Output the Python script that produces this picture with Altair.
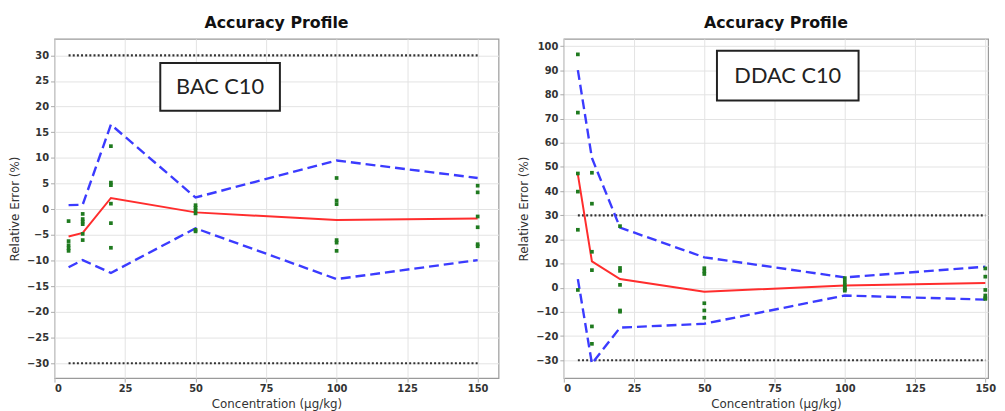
import altair as alt
import pandas as pd

# ---------------- data ----------------
conc = [5, 10, 20, 50, 100, 150]

# BAC C10
bac_mean = [-5.3, -4.6, 2.2, -0.6, -2.1, -1.8]
bac_upper = [0.8, 0.9, 16.5, 2.3, 9.5, 6.1]
bac_lower = [-11.3, -9.9, -12.4, -3.7, -13.6, -9.9]
bac_pts_5 = [-2.3, -6.2, -7.0, -7.6, -8.1]
bac_pts_10 = [-0.9, -1.9, -2.4, -2.9, -4.8, -6.0]
bac_pts_20 = [12.3, 5.2, 4.7, 1.1, -2.7, -7.5]
bac_pts_50 = [0.8, 0.3, -0.2, -0.8, -4.0, -4.3]
bac_pts_100 = [6.1, 1.7, 1.0, -6.0, -6.5, -8.1]
bac_pts_150 = [4.6, 3.3, -1.4, -3.5, -6.8, -7.2]

# DDAC C10
ddac_mean = [46.9, 10.9, 3.6, -1.6, 0.9, 2.0]
ddac_upper = [90.1, 53.7, 24.9, 12.6, 4.3, 8.7]
ddac_lower = [3.6, -31.4, -16.5, -14.9, -3.2, -4.9]
ddac_pts_5 = [96.6, 72.5, 47.3, 39.8, 24.0, -0.9]
ddac_pts_10 = [47.6, 34.8, 14.9, 7.3, -16.0, -23.2]
ddac_pts_20 = [25.5, 8.2, 7.0, 1.2, -9.4, -9.9]
ddac_pts_50 = [8.1, 6.8, 5.7, -6.4, -9.4, -12.4]
ddac_pts_100 = [4.0, 2.5, 1.2, 0.0, -0.6, -1.2]
ddac_pts_150 = [8.0, 4.6, -0.9, -3.2, -4.3, -4.6]

acceptance = [30, -30]
limit_x = [5, 150]

x_ticks = [0, 25, 50, 75, 100, 125, 150]
bac_y_ticks = list(range(-30, 31, 5))
ddac_y_ticks = list(range(-30, 101, 10))

title_text = "Accuracy Profile"
x_title = "Concentration (µg/kg)"
y_title = "Relative Error (%)"
bac_label = "BAC C10"
ddac_label = "DDAC C10"

# annotation boxes in data units: x from, x to, y from, y to
bac_box = [37.5, 79.9, 19.2, 28.5]
ddac_box = [54.5, 104.9, 77.5, 98.1]


def panel(mean, upper, lower, pts, label, box, xmax, ydom, yticks, width, height):
    lines = pd.DataFrame({"x": conc, "mean": mean, "upper": upper, "lower": lower})
    px, py = [], []
    for c, vals in zip(conc, pts):
        for v in vals:
            px.append(c)
            py.append(v)
    points = pd.DataFrame({"x": px, "y": py})
    lim = pd.DataFrame({"x": [limit_x[0]] * 2, "x2": [limit_x[1]] * 2, "y": acceptance})
    boxdf = pd.DataFrame({"x": [box[0]], "x2": [box[1]], "y": [box[2]], "y2": [box[3]],
                          "xc": [(box[0] + box[1]) / 2], "yc": [(box[2] + box[3]) / 2],
                          "label": [label]})

    xs = alt.Scale(domain=[0, xmax], nice=False, zero=False)
    ys = alt.Scale(domain=ydom, nice=False, zero=False)
    xaxis = alt.Axis(values=x_ticks, title=x_title)
    yaxis = alt.Axis(values=yticks, title=y_title)

    def X(f):
        return alt.X(f, type="quantitative", scale=xs, axis=xaxis)

    def Y(f):
        return alt.Y(f, type="quantitative", scale=ys, axis=yaxis)

    limits = alt.Chart(lim).mark_rule(color="#333333", strokeWidth=2.2, strokeDash=[2, 2.2]).encode(
        x=X("x"), x2="x2", y=Y("y"))
    up = alt.Chart(lines).mark_line(color="#3b3bff", strokeWidth=2.4, strokeDash=[10, 5]).encode(
        x=X("x"), y=Y("upper"))
    lo = alt.Chart(lines).mark_line(color="#3b3bff", strokeWidth=2.4, strokeDash=[10, 5]).encode(
        x=X("x"), y=Y("lower"))
    mn = alt.Chart(lines).mark_line(color="#ff2d2d", strokeWidth=2).encode(
        x=X("x"), y=Y("mean"))
    dots = alt.Chart(points).mark_square(color="#1f7a1f", size=14, opacity=1).encode(
        x=X("x"), y=Y("y"))
    rect = alt.Chart(boxdf).mark_rect(fill="white", stroke="#222222", strokeWidth=2).encode(
        x=X("x"), x2="x2", y=Y("y"), y2="y2")
    txt = alt.Chart(boxdf).mark_text(font="Lato", fontSize=22, color="#222222").encode(
        x=X("xc"), y=Y("yc"), text="label")

    return alt.layer(limits, up, lo, mn, dots, rect, txt).properties(
        width=width, height=height, title=title_text)


left = panel(bac_mean, bac_upper, bac_lower,
             [bac_pts_5, bac_pts_10, bac_pts_20, bac_pts_50, bac_pts_100, bac_pts_150],
             bac_label, bac_box, 157.4, [-32.9, 33.2], bac_y_ticks, 449, 343)
right = panel(ddac_mean, ddac_upper, ddac_lower,
              [ddac_pts_5, ddac_pts_10, ddac_pts_20, ddac_pts_50, ddac_pts_100, ddac_pts_150],
              ddac_label, ddac_box, 151.0, [-37.4, 103.0], ddac_y_ticks, 429, 343)

chart = alt.hconcat(left, right, spacing=18).properties(
    padding={"left": 0, "top": 4, "right": 0, "bottom": 0}
).configure_view(
    stroke="#9a9a9a", strokeWidth=1.2
).configure_axis(
    domain=False,
    grid=True, gridColor="#e3e3e3", gridWidth=1,
    tickColor="#aaaaaa", tickSize=4,
    labelFont="DejaVu Sans", labelFontSize=10, labelFontWeight="bold", labelColor="#333333",
    labelPadding=2,
    titleFont="DejaVu Sans", titleFontSize=12, titleFontWeight="normal", titleColor="#333333",
).configure_axisY(
    titlePadding=5,
).configure_axisX(
    titlePadding=5,
).configure_title(
    font="DejaVu Sans", fontSize=16, fontWeight="bold", color="#111111", anchor="middle", offset=8,
)

chart.save("out.html", embed_options={"renderer": "svg", "actions": False})
